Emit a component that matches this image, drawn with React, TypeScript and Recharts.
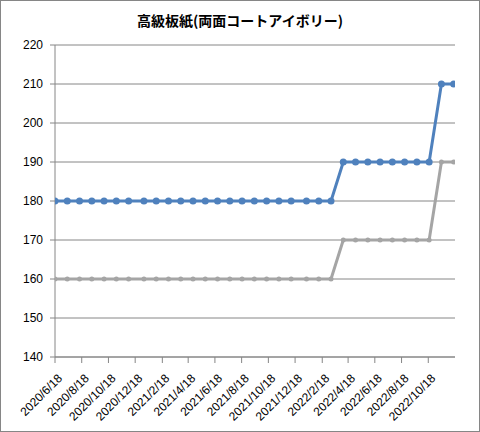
import React from 'react';
import { LineChart, Line, XAxis, YAxis, CartesianGrid } from 'recharts';

const title = '高級板紙(両面コートアイボリー)';

const dates = [
  '2020/6/18', '2020/7/16', '2020/8/13', '2020/9/10', '2020/10/8', '2020/11/5', '2020/12/3',
  '2021/1/7', '2021/2/4', '2021/3/4', '2021/4/1', '2021/4/29', '2021/5/27', '2021/6/24',
  '2021/7/22', '2021/8/19', '2021/9/16', '2021/10/14', '2021/11/11', '2021/12/9',
  '2022/1/13', '2022/2/10', '2022/3/10', '2022/4/7', '2022/5/5', '2022/6/2', '2022/6/30',
  '2022/7/28', '2022/8/25', '2022/9/22', '2022/10/20', '2022/11/17', '2022/12/15',
];

const blueValues = [
  180, 180, 180, 180, 180, 180, 180, 180, 180, 180, 180, 180, 180, 180, 180, 180, 180,
  180, 180, 180, 180, 180, 180, 190, 190, 190, 190, 190, 190, 190, 190, 210, 210,
];

const grayValues = [
  160, 160, 160, 160, 160, 160, 160, 160, 160, 160, 160, 160, 160, 160, 160, 160, 160,
  160, 160, 160, 160, 160, 160, 170, 170, 170, 170, 170, 170, 170, 170, 190, 190,
];

const xTickLabels = [
  '2020/6/18', '2020/8/18', '2020/10/18', '2020/12/18', '2021/2/18', '2021/4/18',
  '2021/6/18', '2021/8/18', '2021/10/18', '2021/12/18', '2022/2/18', '2022/4/18',
  '2022/6/18', '2022/8/18', '2022/10/18',
];

const yTicks = [140, 150, 160, 170, 180, 190, 200, 210, 220];
const axisStart = '2020/6/18';
const axisEnd = '2022/12/18';

const toDay = (s: string) => {
  const [y, m, d] = s.split('/').map(Number);
  return Date.UTC(y, m - 1, d) / 86400000;
};

const labelByDay: Record<number, string> = {};
xTickLabels.forEach((l) => {
  labelByDay[toDay(l)] = l;
});

const data = dates.map((d, i) => ({ t: toDay(d), blue: blueValues[i], gray: grayValues[i] }));

const FONT = '"Liberation Sans", Arial, sans-serif';
const AXIS = '#868686';

const XTick = (props: any) => {
  const { x, y, payload } = props;
  return (
    <g transform={`translate(${x + 5},${y + 11})`}>
      <text
        x={0}
        y={0}
        dy="0.35em"
        textAnchor="end"
        transform="rotate(-45)"
        fontFamily={FONT}
        fontSize={12}
        fill="#000"
      >
        {labelByDay[payload.value] ?? ''}
      </text>
    </g>
  );
};

export default function App() {
  return (
    <div style={{ position: 'absolute', left: 0, top: 0, width: 480, height: 432, background: '#fff' }}>
      <div
        style={{
          position: 'absolute',
          left: 0,
          top: 0,
          width: 480,
          height: 432,
          boxSizing: 'border-box',
          border: `1px solid ${AXIS}`,
        }}
      />
      <div
        style={{
          position: 'absolute',
          left: 0,
          top: 10,
          width: 480,
          textAlign: 'center',
          fontFamily: '"Noto Sans CJK JP", sans-serif',
          fontWeight: 'bold',
          fontSize: 14,
          lineHeight: '20px',
          color: '#000',
        }}
      >
        {title}
      </div>
      <div style={{ position: 'absolute', left: 0, top: 0 }}>
        <LineChart width={480} height={432} data={data} margin={{ top: 45, right: 25, bottom: 15, left: 5 }}>
          <CartesianGrid vertical={false} stroke={AXIS} strokeWidth={1} />
          <XAxis
            dataKey="t"
            type="number"
            domain={[toDay(axisStart), toDay(axisEnd)]}
            ticks={xTickLabels.map(toDay)}
            interval={0}
            height={60}
            stroke={AXIS}
            tickSize={6}
            tick={<XTick />}
            allowDataOverflow
          />
          <YAxis
            domain={[140, 220]}
            ticks={yTicks}
            interval={0}
            width={50}
            stroke={AXIS}
            tickSize={5}
            tickMargin={7}
            tick={{ fill: '#000', fontSize: 12, fontFamily: FONT }}
          />
          <Line
            dataKey="gray"
            stroke="#A5A5A5"
            strokeWidth={3}
            dot={{ r: 2.5, fill: '#A5A5A5', stroke: '#A5A5A5', strokeWidth: 0 }}
            activeDot={false}
            isAnimationActive={false}
            type="linear"
          />
          <Line
            dataKey="blue"
            stroke="#4F81BD"
            strokeWidth={3}
            dot={{ r: 3.5, fill: '#4F81BD', stroke: '#4F81BD', strokeWidth: 0 }}
            activeDot={false}
            isAnimationActive={false}
            type="linear"
          />
        </LineChart>
      </div>
    </div>
  );
}
